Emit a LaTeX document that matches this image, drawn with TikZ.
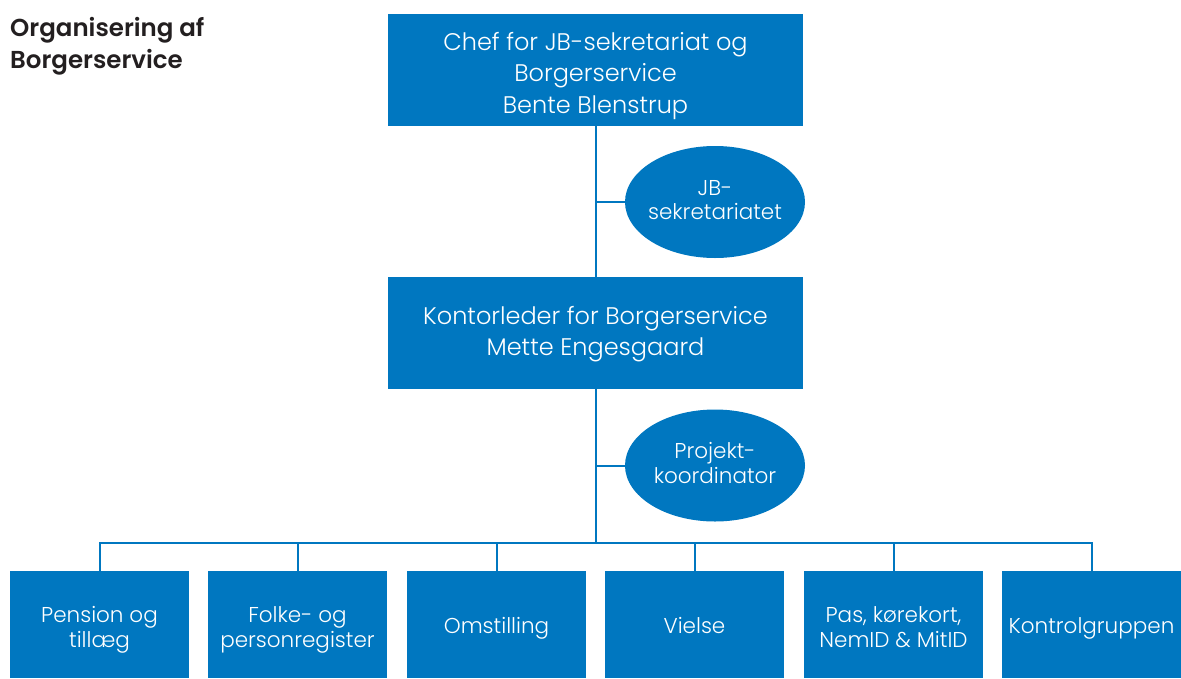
\documentclass[tikz,border=0pt]{standalone}
\usepackage{fontspec}
\setmainfont{Poppins}[UprightFont=* Light, BoldFont=* SemiBold]
\usetikzlibrary{shapes.geometric}
\definecolor{boxblue}{RGB}{0,119,192}
\definecolor{titlegray}{RGB}{35,31,32}
% first baseline placed #1 above the node centre; text box of zero size
\newcommand\boxtext[2]{\raisebox{#1}[0pt][0pt]{\makebox[0pt]{\begin{tabular}[t]{@{}c@{}}#2\end{tabular}}}}
\tikzset{
  bigbox/.style={rectangle, fill=boxblue, text=white, minimum width=415pt, minimum height=112pt, inner sep=0pt, font=\fontsize{24}{31.6}\selectfont},
  smallbox/.style={rectangle, fill=boxblue, text=white, minimum width=179pt, minimum height=107pt, inner sep=0pt, font=\fontsize{21.5}{25.5}\selectfont},
  oval/.style={ellipse, fill=boxblue, text=white, minimum width=180pt, minimum height=112pt, inner sep=0pt, font=\fontsize{21.5}{24.5}\selectfont},
  link/.style={draw=boxblue, line width=2pt}
}
\begin{document}
\begin{tikzpicture}[x=1pt,y=-1pt]
\useasboundingbox (0,0) rectangle (1181,678);
\node[anchor=base west, text=titlegray, inner sep=0pt, font=\fontsize{24.5}{32}\selectfont\bfseries] (title) at (10,36) {\begin{tabular}[t]{@{}l@{}}Organisering af\\Borgerservice\end{tabular}};
\node[bigbox] (chef) at (595.5,70) {\boxtext{20pt}{Chef for JB-sekretariat og\\Borgerservice\\Bente Blenstrup}};
\node[oval] (jb) at (715,202) {\boxtext{7pt}{JB-\\sekretariatet}};
\node[bigbox] (kontor) at (595.5,333) {\boxtext{8.7pt}{Kontorleder for Borgerservice\\Mette Engesgaard}};
\node[oval] (proj) at (715,465.5) {\boxtext{7pt}{Projekt-\\koordinator}};
\node[smallbox] (b1) at (99.5,624.5) {\boxtext{2.2pt}{Pension og\\tillæg}};
\node[smallbox] (b2) at (297.5,624.5) {\boxtext{2.2pt}{Folke- og\\personregister}};
\node[smallbox] (b3) at (496.5,624.5) {\boxtext{-8.8pt}{Omstilling}};
\node[smallbox] (b4) at (694.5,624.5) {\boxtext{-8.8pt}{Vielse}};
\node[smallbox] (b5) at (893.5,624.5) {\boxtext{2.2pt}{Pas, kørekort,\\NemID \& MitID}};
\node[smallbox] (b6) at (1091.5,624.5) {\boxtext{-8.8pt}{Kontrolgruppen}};
\coordinate (bar) at (595.5,542.5);
\draw[link] (chef.south) -- (kontor.north);
\draw[link] (chef.south |- jb.west) -- (jb.west);
\draw[link] (kontor.south) -- (bar);
\draw[link] (kontor.south |- proj.west) -- (proj.west);
\foreach \b in {b1,b2,b3,b4,b5,b6} {
  \draw[link] (bar) -| (\b.north);
}
\end{tikzpicture}
\end{document}
